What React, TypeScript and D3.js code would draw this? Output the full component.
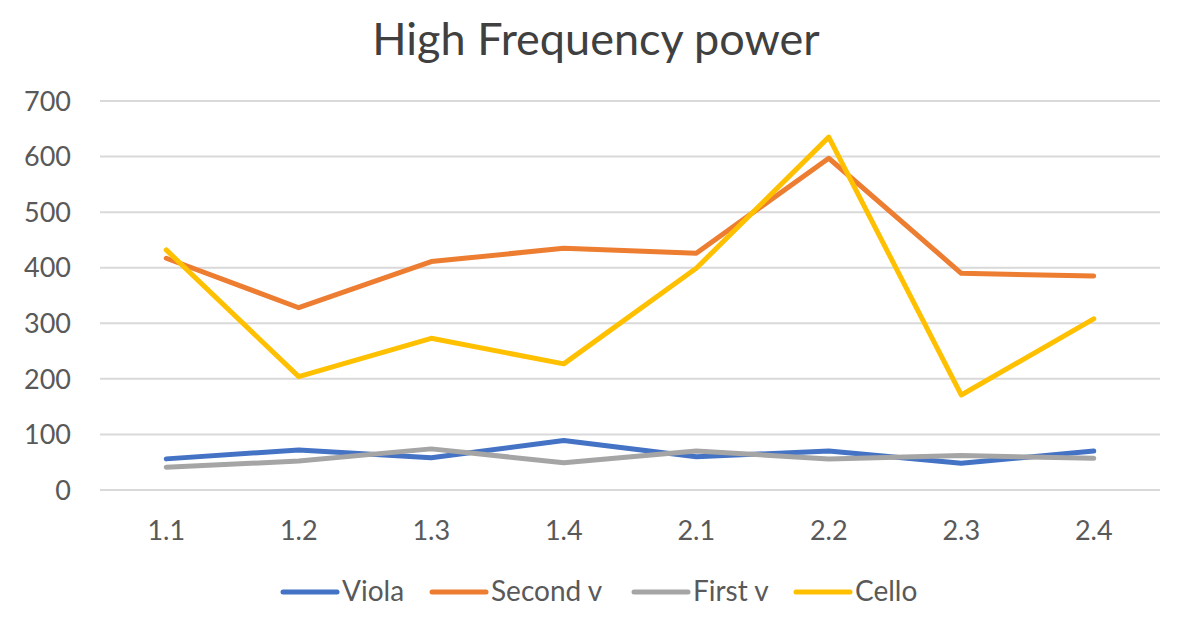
import React from 'react';
import * as d3 from 'd3';

const categories = ['1.1', '1.2', '1.3', '1.4', '2.1', '2.2', '2.3', '2.4'];
const viola = [56, 72, 58, 89, 60, 70, 48, 70];
const secondV = [417, 328, 411, 435, 426, 597, 390, 385];
const firstV = [41, 52, 74, 49, 70, 56, 62, 57];
const cello = [432, 204, 273, 227, 399, 635, 171, 308];
const yTicks = [0, 100, 200, 300, 400, 500, 600, 700];

const series = [
  { name: 'Viola', values: viola, color: '#4472C4' },
  { name: 'Second v', values: secondV, color: '#ED7D31' },
  { name: 'First v', values: firstV, color: '#A5A5A5' },
  { name: 'Cello', values: cello, color: '#FFC000' },
];

const W = 1181;
const H = 622;
const FONT = 'Lato, "Open Sans", sans-serif';

const App: React.FC = () => {
  const x = d3.scaleBand<string>().domain(categories).range([100, 1160]).padding(0);
  const y = d3.scaleLinear().domain([0, 700]).range([490, 101]);
  const cx = (c: string) => (x(c) ?? 0) + x.bandwidth() / 2;

  const line = d3
    .line<number>()
    .x((_, i) => cx(categories[i]))
    .y((d) => y(d));

  // legend layout
  const legendX = [283, 432, 634, 796];

  return (
    <svg width={W} height={H} style={{ position: 'absolute', left: 0, top: 0 }} fontFamily={FONT}>
      <rect width={W} height={H} fill="#fff" />
      <text x={596} y={55} textAnchor="middle" fontSize={45} fill="#404040">
        High Frequency power
      </text>

      {yTicks.map((t) => (
        <g key={t}>
          <line x1={100} x2={1160} y1={y(t)} y2={y(t)} stroke="#d9d9d9" strokeWidth={2} />
          <text x={71} y={y(t)} dy="0.36em" textAnchor="end" fontSize={27} fill="#595959">
            {t}
          </text>
        </g>
      ))}

      {categories.map((c) => (
        <text key={c} x={cx(c)} y={540} textAnchor="middle" fontSize={27} fill="#595959">
          {c}
        </text>
      ))}

      {series.map((s) => (
        <path
          key={s.name}
          d={line(s.values) ?? ''}
          fill="none"
          stroke={s.color}
          strokeWidth={5}
          strokeLinecap="round"
          strokeLinejoin="round"
        />
      ))}

      {series.map((s, i) => (
        <g key={s.name} transform={`translate(${legendX[i]},592)`}>
          <line x1={0} x2={54} y1={0} y2={0} stroke={s.color} strokeWidth={5} strokeLinecap="round" />
          <text x={59} y={9} fontSize={28} fill="#595959">
            {s.name}
          </text>
        </g>
      ))}
    </svg>
  );
};

export default App;
